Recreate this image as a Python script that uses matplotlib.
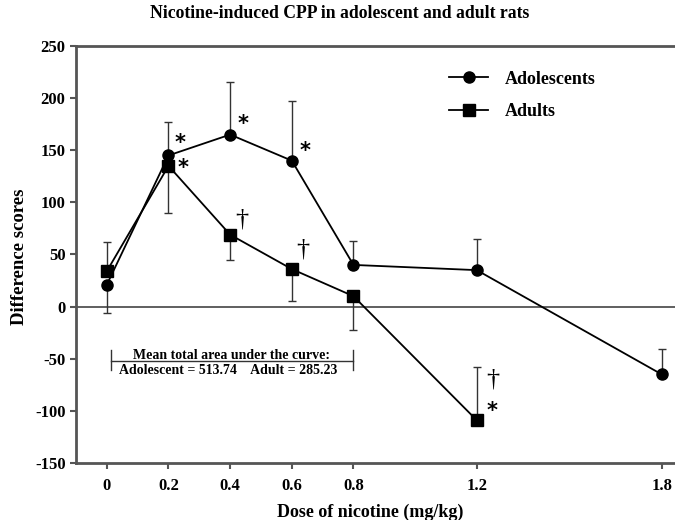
import matplotlib
matplotlib.use("Agg")
import matplotlib.pyplot as plt

plt.rcParams['font.family'] = ['Liberation Serif', 'DejaVu Serif']
plt.rcParams['font.weight'] = 'bold'
plt.rcParams['axes.unicode_minus'] = False

# data
doses = [0, 0.2, 0.4, 0.6, 0.8, 1.2, 1.8]
adolescents = [21, 145, 165, 140, 40, 35, -65]
adol_err_lo = [27, 0, 0, 0, 0, 0, 0]
adol_err_hi = [0, 32, 50, 57, 23, 30, 24]
adult_doses = [0, 0.2, 0.4, 0.6, 0.8, 1.2]
adults = [34, 135, 69, 36, 10, -109]
adult_err_lo = [0, 45, 24, 31, 32, 0]
adult_err_hi = [28, 0, 0, 0, 0, 51]
xticks = [0, 0.2, 0.4, 0.6, 0.8, 1.2, 1.8]
yticks = [-150, -100, -50, 0, 50, 100, 150, 200, 250]

# significance marks: (x, y, symbol)
marks = [(0.238, 160, '*'), (0.248, 136, '*'), (0.443, 178, '*'), (0.643, 152, '*'),
         (0.438, 84, '†'), (0.637, 55, '†'), (1.253, -70, '†'), (1.25, -97, '*')]

fig = plt.figure(figsize=(6.75, 5.2), dpi=100)
ax = fig.add_axes([0.1126, 0.1096, 0.8874, 0.802])

spine_col = '#555555'
ax.axhline(0, color='#444444', lw=1.2, zorder=1)

ax.errorbar(doses, adolescents, yerr=[adol_err_lo, adol_err_hi], fmt='none',
            ecolor='#333333', elinewidth=1.0, capsize=3, capthick=1.0, zorder=2)
ax.errorbar(adult_doses, adults, yerr=[adult_err_lo, adult_err_hi], fmt='none',
            ecolor='#333333', elinewidth=1.0, capsize=3, capthick=1.0, zorder=2)
ax.plot(doses, adolescents, '-o', color='black', lw=1.3, ms=8, label='Adolescents', zorder=3)
ax.plot(adult_doses, adults, '-s', color='black', lw=1.3, ms=8, label='Adults', zorder=3)

for x, y, s in marks:
    if s == '*':
        ax.text(x, y - 3, s, ha='center', va='center', fontsize=15, family=['DejaVu Sans'])
    else:
        ax.text(x, y, s, ha='center', va='center', fontsize=19, fontweight='normal')

# area-under-curve bracket
ax.plot([0.013, 0.8], [-52, -52], color='#333333', lw=1.0)
ax.plot([0.013, 0.013], [-42, -61], color='#333333', lw=1.0)
ax.plot([0.8, 0.8], [-42, -61], color='#333333', lw=1.0)
ax.text(0.405, -46.5, 'Mean total area under the curve:', ha='center', va='center', fontsize=10)
ax.text(0.395, -61, 'Adolescent = 513.74    Adult = 285.23', ha='center', va='center', fontsize=10)

ax.set_xlim(-0.1, 1.843)
ax.set_ylim(-150, 250)
ax.set_xticks(xticks)
ax.set_xticklabels(['0', '0.2', '0.4', '0.6', '0.8', '1.2', '1.8'])
ax.set_yticks(yticks)
ax.tick_params(axis='both', labelsize=12, length=4, width=1.5, color=spine_col, direction='out')
ax.tick_params(axis='x', pad=7)

for side in ['left', 'bottom', 'top']:
    ax.spines[side].set_color(spine_col)
    ax.spines[side].set_linewidth(2)
ax.spines['right'].set_visible(False)

fig.text(340 / 675, 1 - 14 / 520, 'Nicotine-induced CPP in adolescent and adult rats',
         ha='center', va='center', fontsize=12.7, fontweight='bold')
fig.text(20 / 675, 1 - 257 / 520, 'Difference scores', rotation=90, ha='center', va='center',
         fontsize=13.5, fontweight='bold')
fig.text(370 / 675, 3 / 520, 'Dose of nicotine (mg/kg)', ha='center', va='baseline',
         fontsize=13, fontweight='bold')

leg = ax.legend(loc='upper left', bbox_to_anchor=(0.595, 0.98), frameon=False, fontsize=13,
                handlelength=2.2, labelspacing=0.85, handletextpad=0.9)

fig.savefig('out.png', dpi=100)
